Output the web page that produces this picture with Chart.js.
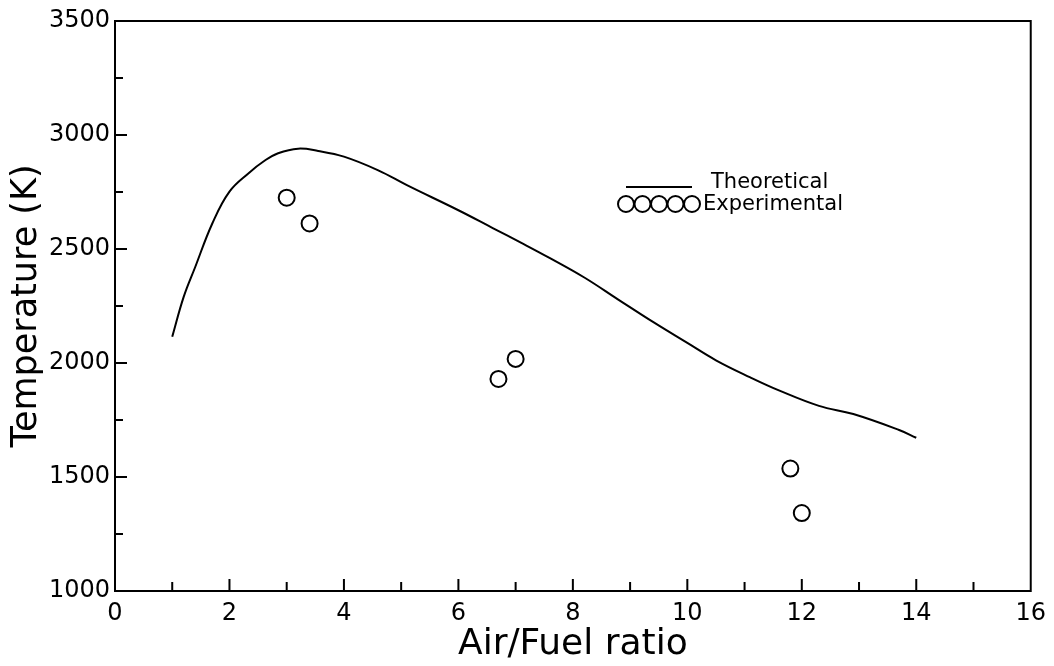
<!DOCTYPE html>
<html>
<head>
<meta charset="utf-8">
<script src="https://cdn.jsdelivr.net/npm/chart.js@4.4.0/dist/chart.umd.min.js"></script>
<style>
  html, body { margin: 0; padding: 0; background: #fff; }
  #wrap { width: 1054px; height: 666px; }
</style>
</head>
<body>
<div id="wrap"><canvas id="tempChart" width="1054" height="666"></canvas></div>
<script>
// Flame temperature vs air/fuel ratio

const theoX = [1.0, 1.2, 1.4, 1.7, 2.0, 2.35, 2.6, 2.85, 3.2, 3.55, 4.0, 4.6, 5.1, 6.0, 6.6, 7.1, 7.6, 8.2, 8.8, 9.4, 10.0, 10.5, 11.1, 11.6, 12.3, 12.9, 13.7, 14.0];
const theoY = [2115, 2290, 2420, 2612, 2752, 2836, 2885, 2920, 2940, 2930, 2905, 2845, 2780, 2670, 2592, 2527, 2460, 2375, 2277, 2180, 2088, 2012, 1937, 1880, 1812, 1776, 1706, 1672];

const expX = [3.0, 3.4, 6.7, 7.0, 11.8, 12.0];
const expY = [2725, 2612, 1930, 2018, 1537, 1342];

const xTicks = [0, 2, 4, 6, 8, 10, 12, 14, 16];
const yTicks = [1000, 1500, 2000, 2500, 3000, 3500];

const seriesNames = ['Theoretical', 'Experimental'];

const FONT = 'DejaVu Sans';

function toPoints(xs, ys) {
    return xs.map((x, i) => ({ x: x, y: ys[i] }));
}

// box, inward ticks and legend
const framePlugin = {
    id: 'frame',
    afterDraw(chart) {
        const ctx = chart.ctx;
        const a = chart.chartArea;
        const xs = chart.scales.x;
        const ys = chart.scales.y;
        ctx.save();
        ctx.strokeStyle = '#000';
        ctx.lineWidth = 2;
        ctx.strokeRect(a.left, a.top, a.right - a.left, a.bottom - a.top);

        ctx.beginPath();
        for (let v = xs.min + 1; v < xs.max; v += 1) {
            const px = xs.getPixelForValue(v);
            const len = v % 2 === 0 ? 12 : 9;
            ctx.moveTo(px, a.bottom);
            ctx.lineTo(px, a.bottom - len);
        }
        for (let v = ys.min + 250; v < ys.max; v += 250) {
            const py = ys.getPixelForValue(v);
            const len = v % 500 === 0 ? 12 : 8;
            ctx.moveTo(a.left, py);
            ctx.lineTo(a.left + len, py);
        }
        ctx.stroke();

        // legend
        const lx = a.left + 511;
        const ly = a.top + 166;
        ctx.lineWidth = 2;
        ctx.beginPath();
        ctx.moveTo(lx, ly);
        ctx.lineTo(lx + 66, ly);
        ctx.stroke();
        for (let i = 0; i < 5; i++) {
            ctx.beginPath();
            ctx.arc(lx + i * 16.5, ly + 17, 8, 0, Math.PI * 2);
            ctx.stroke();
        }
        ctx.fillStyle = '#000';
        ctx.font = '21px "' + FONT + '"';
        ctx.textBaseline = 'middle';
        ctx.textAlign = 'left';
        ctx.fillText(seriesNames[0], lx + 85, ly - 4);
        ctx.fillText(seriesNames[1], lx + 77, ly + 18);
        ctx.restore();
    }
};

new Chart(document.getElementById('tempChart'), {
    type: 'scatter',
    data: {
        datasets: [
            {
                label: seriesNames[0],
                data: toPoints(theoX, theoY),
                showLine: true,
                borderColor: '#000',
                borderWidth: 2,
                pointRadius: 0,
                tension: 0.4
            },
            {
                label: seriesNames[1],
                data: toPoints(expX, expY),
                showLine: false,
                pointStyle: 'circle',
                pointRadius: 8,
                pointBorderWidth: 2,
                pointBorderColor: '#000',
                pointBackgroundColor: 'rgba(0,0,0,0)'
            }
        ]
    },
    options: {
        responsive: false,
        animation: false,
        layout: { padding: { top: 21, right: 21, left: 6, bottom: 0 } },
        plugins: {
            legend: { display: false },
            tooltip: { enabled: false }
        },
        scales: {
            x: {
                type: 'linear',
                min: 0,
                max: 16,
                afterFit(scale) { scale.height = 75; },
                afterBuildTicks(scale) { scale.ticks = xTicks.map(v => ({ value: v })); },
                grid: { display: false, drawTicks: false },
                border: { display: false },
                ticks: {
                    color: '#000',
                    padding: 8,
                    font: { family: FONT, size: 24 },
                    callback: v => String(v)
                },
                title: {
                    display: true,
                    text: 'Air/Fuel ratio',
                    color: '#000',
                    padding: { top: 0, bottom: 0 },
                    font: { family: FONT, size: 36 }
                }
            },
            y: {
                type: 'linear',
                min: 1000,
                max: 3500,
                afterFit(scale) { scale.width = 109; },
                afterBuildTicks(scale) { scale.ticks = yTicks.map(v => ({ value: v })); },
                grid: { display: false, drawTicks: false },
                border: { display: false },
                ticks: {
                    color: '#000',
                    padding: 5,
                    font: { family: FONT, size: 24 },
                    callback: v => String(v)
                },
                title: {
                    display: true,
                    text: 'Temperature (K)',
                    color: '#000',
                    padding: { top: 0, bottom: 0 },
                    font: { family: FONT, size: 35 }
                }
            }
        }
    },
    plugins: [framePlugin]
});
</script>
</body>
</html>
